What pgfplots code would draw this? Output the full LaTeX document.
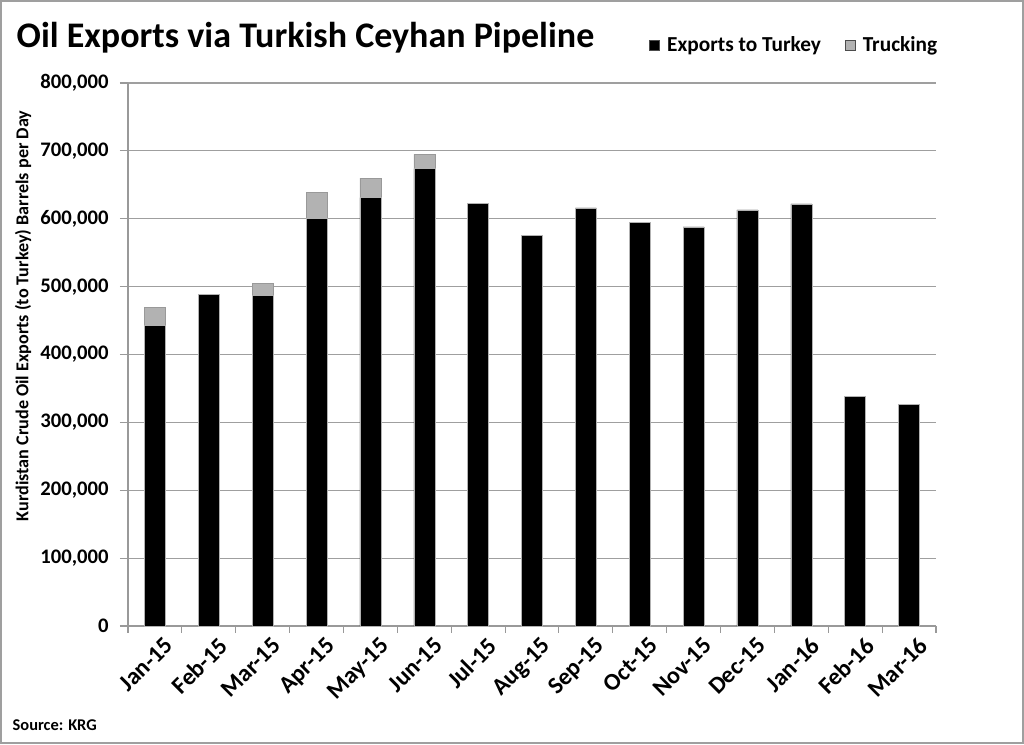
\documentclass[border=0pt]{standalone}
\usepackage{fontspec}
\setmainfont{Carlito}
\usepackage{pgfplots}
\pgfplotsset{compat=1.18}
\begin{document}
\begin{tikzpicture}[x=0.75pt,y=0.75pt]
\useasboundingbox (0,0) rectangle (1024,744);
\fill[white] (0,0) rectangle (1024,744);
\draw[gray!75, line width=1.5pt] (1,1) rectangle (1023,743);
\node[anchor=west, font=\bfseries\fontsize{27}{30}\selectfont] at (12,706) {Oil Exports via Turkish Ceyhan Pipeline};
\node[rotate=90, font=\bfseries\fontsize{13.6}{15}\selectfont] at (23,428) {Kurdistan Crude Oil Exports (to Turkey) Barrels per Day};
\node[anchor=west, font=\bfseries\fontsize{12.3}{14}\selectfont] at (8,19) {Source: KRG};
\begin{axis}[
  at={(96pt,88.5pt)}, anchor=south west,
  scale only axis, width=606pt, height=407.25pt,
  ybar stacked, bar width=15.75pt,
  xmin=-0.5, xmax=14.5, ymin=0, ymax=800000,
  xtick={0,...,14},
  xticklabels={Jan-15,Feb-15,Mar-15,Apr-15,May-15,Jun-15,Jul-15,Aug-15,Sep-15,Oct-15,Nov-15,Dec-15,Jan-16,Feb-16,Mar-16},
  minor xtick={-0.5,0.5,...,14.5},
  major x tick style={draw=none},
  minor x tick style={gray!80, line width=0.8pt},
  ytick={0,100000,...,800000},
  ymajorgrids, grid style={gray!75, line width=0.8pt},
  axis x line*=bottom, axis y line*=left,
  axis line style={gray!80, line width=0.8pt},
  tick align=outside, major tick length=6pt, minor tick length=5pt,
  y tick style={gray!80, line width=0.8pt},
  scaled y ticks=false,
  /pgf/number format/.cd, fixed, 1000 sep={,}, assume math mode=true, /pgfplots/.cd,
  yticklabel style={font=\bfseries\fontsize{15.5}{17}\selectfont, xshift=-5pt},
  xticklabel style={font=\bfseries\fontsize{18}{20}\selectfont, rotate=45, anchor=north east, xshift=7pt, yshift=-2pt},
  legend style={at={(0.825,1.07)}, anchor=center, draw=none, fill=none, legend columns=2,
    font=\bfseries\fontsize{16}{18}\selectfont,
    /tikz/every even column/.append style={column sep=16pt}},
  legend image code/.code={\draw[#1, draw=gray!60!black] (0pt,-3.75pt) rectangle (7.5pt,3.75pt); \path (11pt,0);},
]
\addplot[fill=black, draw=gray!60] coordinates {
(0,443000) (1,489000) (2,487000) (3,601000) (4,631000) (5,674000) (6,623000) (7,575000)
(8,616000) (9,595000) (10,588000) (11,613000) (12,622000) (13,338000) (14,327000)};
\addplot[fill=gray!60, draw=gray!80] coordinates {
(0,26000) (1,0) (2,18000) (3,38000) (4,29000) (5,21000) (6,0) (7,0)
(8,0) (9,0) (10,0) (11,0) (12,0) (13,0) (14,0)};
\legend{Exports to Turkey, Trucking}
\end{axis}
\end{tikzpicture}
\end{document}
